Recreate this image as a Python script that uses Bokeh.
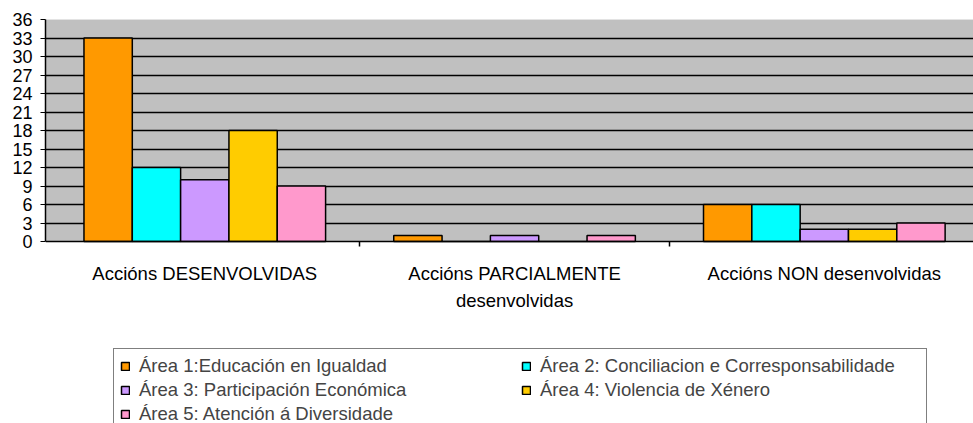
import numpy as np
from bokeh.plotting import figure
from bokeh.models import (Range1d, FixedTicker, ColumnDataSource, Legend, LegendItem,
                          BoxAnnotation)
from bokeh.transform import dodge
from bokeh.embed import file_html
from bokeh.resources import INLINE

# ---- data ----
categories = ["Accións DESENVOLVIDAS", "Accións PARCIALMENTE\ndesenvolvidas", "Accións NON desenvolvidas"]
series_names = [
    "Área 1:Educación en Igualdad",
    "Área 2: Conciliacion e Corresponsabilidade",
    "Área 3: Participación Económica",
    "Área 4: Violencia de Xénero",
    "Área 5: Atención á Diversidade",
]
area1 = [33, 1, 6]
area2 = [12, 0, 6]
area3 = [10, 1, 2]
area4 = [18, 0, 2]
area5 = [9, 1, 3]
series_values = [area1, area2, area3, area4, area5]
y_ticks = list(range(0, 37, 3))

# ---- style ----
colors = ["#FF9900", "#00FFFF", "#CC99FF", "#FFCC00", "#FF99CC"]
FONT = "Liberation Sans"
bar_w = 0.156
x_start = -0.0142
x_end = 2.9816
y_bottom = -29.5   # extra room under the value axis for category labels and legend

p = figure(width=973, height=423, output_backend="svg", toolbar_location=None,
           x_range=Range1d(x_start, x_end), y_range=Range1d(y_bottom, y_ticks[-1]),
           min_border_left=45, min_border_right=0, min_border_top=19, min_border_bottom=0)
p.background_fill_color = "white"
p.border_fill_color = "white"
p.outline_line_color = None

# grey plot area (0..36)
p.add_layout(BoxAnnotation(bottom=y_ticks[0], top=y_ticks[-1], fill_color="#C0C0C0",
                           fill_alpha=1.0, line_color="#A0A0A0", line_width=1,
                           level="image"))

cat_x = np.arange(len(categories)) + 0.5
bounds = list(np.arange(1, len(categories) + 1).astype(float))

renderers = []
for i, (vals, color) in enumerate(zip(series_values, colors)):
    src = ColumnDataSource(dict(x=cat_x, top=vals))
    r = p.vbar(x=dodge("x", (i - (len(series_values) - 1) / 2) * bar_w, range=p.x_range),
               top="top", width=bar_w, source=src,
               fill_color=color, line_color="black", line_width=1.5)
    renderers.append(r)

# grid
p.xgrid.visible = False
p.ygrid.ticker = FixedTicker(ticks=y_ticks[1:-1])
p.ygrid.grid_line_color = "black"
p.ygrid.grid_line_width = 1.6

# y axis
p.yaxis.ticker = FixedTicker(ticks=y_ticks)
p.yaxis.bounds = (y_ticks[0], y_ticks[-1])
p.yaxis.major_tick_out = 5
p.yaxis.major_tick_in = 0
p.yaxis.minor_tick_out = 0
p.yaxis.minor_tick_in = 0
p.yaxis.major_label_standoff = 8
p.yaxis.axis_line_color = "black"
p.yaxis.axis_line_width = 1.5
p.yaxis.major_label_text_font = FONT
p.yaxis.major_label_text_font_size = "18px"
p.yaxis.major_label_text_color = "black"

# x axis, pinned at value 0
p.xaxis.fixed_location = y_ticks[0]
p.xaxis.ticker = FixedTicker(ticks=list(cat_x), minor_ticks=bounds)
p.xaxis.major_label_overrides = {float(x): c for x, c in zip(cat_x, categories)}
p.xaxis.major_tick_out = 0
p.xaxis.major_tick_in = 0
p.xaxis.minor_tick_out = 5
p.xaxis.minor_tick_in = 0
p.xaxis.minor_tick_line_color = "black"
p.xaxis.minor_tick_line_width = 1.5
p.xaxis.major_label_standoff = 16
p.xaxis.axis_line_color = "black"
p.xaxis.axis_line_width = 1.5
p.xaxis.major_label_text_font = FONT
p.xaxis.major_label_text_font_size = "18.5px"
p.xaxis.major_label_text_line_height = 1.3
p.xaxis.major_label_text_color = "black"
p.xaxis.major_label_text_align = "center"

legend = Legend(
    items=[LegendItem(label=n, renderers=[r]) for n, r in zip(series_names, renderers)],
    location=(68, -9), orientation="horizontal", ncols=2,
    border_line_color="black", border_line_width=1,
    background_fill_color="white", background_fill_alpha=1.0,
    label_text_font=FONT, label_text_font_size="18.5px",
    glyph_width=10, glyph_height=10, label_height=19, label_width=380,
    label_standoff=9, spacing=2, padding=6, margin=0,
)
p.add_layout(legend)

open("out.html", "w").write(file_html(p, INLINE))
